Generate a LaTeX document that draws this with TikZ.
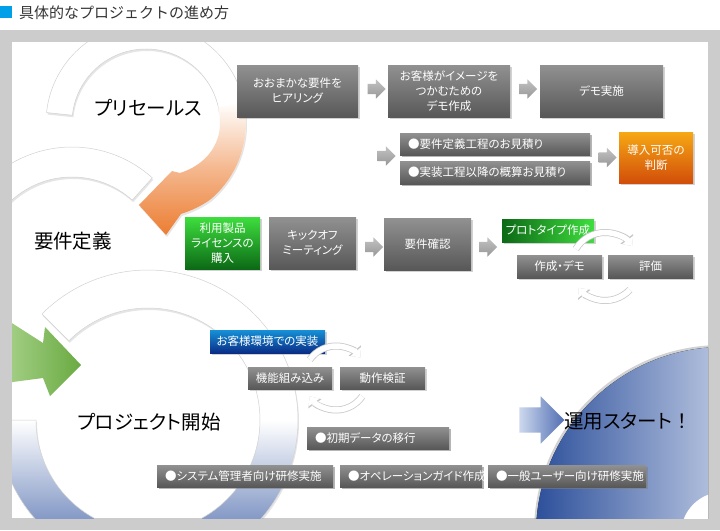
\documentclass[tikz,border=0pt]{standalone}
\usepackage{fontspec}
\usepackage{tikz}
\usetikzlibrary{arrows.meta, shapes.arrows, shadows, calc}

\newfontfamily\jpfont{Noto Sans CJK JP}
\newfontfamily\jpprop[RawFeature=+palt]{Noto Sans CJK JP}

\definecolor{framegray}{RGB}{204,204,204}
\definecolor{titleblue}{RGB}{0,160,233}
\definecolor{titlegray}{RGB}{51,51,51}
\definecolor{boxlight}{RGB}{145,145,145}
\definecolor{boxdark}{RGB}{88,88,88}
\definecolor{arrowlight}{RGB}{195,195,195}
\definecolor{arrowdark}{RGB}{150,150,150}
\definecolor{orangetop}{RGB}{246,168,20}
\definecolor{orangebot}{RGB}{210,78,10}
\definecolor{greentop}{RGB}{62,222,62}
\definecolor{greenbot}{RGB}{12,105,22}
\definecolor{impltop}{RGB}{22,145,215}
\definecolor{implbot}{RGB}{10,45,135}
\definecolor{ringorange}{RGB}{236,125,50}
\definecolor{ringblue}{RGB}{50,85,160}
\definecolor{greenlight}{RGB}{178,216,150}
\definecolor{greendark}{RGB}{105,170,65}
\definecolor{bigbluedark}{RGB}{45,80,155}
\definecolor{bigbluelight}{RGB}{185,198,225}
\definecolor{runlight}{RGB}{205,216,238}
\definecolor{rundark}{RGB}{80,110,178}

\begin{document}
\begin{tikzpicture}[x=1pt, y=-1pt,
    box/.style={rectangle, top color=boxlight, bottom color=boxdark,
      text=white, align=center, inner sep=0pt,
      font=\jpprop\fontsize{11.5}{15}\selectfont,
      drop shadow={opacity=0.35, shadow xshift=1.5pt, shadow yshift=-1.5pt}},
    listbox/.style={box, align=left, text width=#1, inner xsep=8pt},
    blockarrow/.style={single arrow, single arrow head extend=4.5pt,
      minimum height=18pt, inner xsep=0pt, inner ysep=5pt,
      top color=arrowlight, bottom color=arrowdark},
    ring/.style={draw=black!18, line width=0.5pt, fill=white,
      drop shadow={opacity=0.2, shadow xshift=1pt, shadow yshift=-2pt}},
    stage/.style={font=\jpprop\fontsize{19.5}{24}\selectfont, text=black, inner sep=0pt},
    cyc/.style={draw=white, line width=5.5pt, -{Triangle[length=7.5pt, width=13pt]},
      preaction={draw=black!22, line width=7pt, -{Triangle[length=9pt, width=15.5pt]}}}]
  \useasboundingbox (0,0) rectangle (720,530);

  \fill[titleblue] (0,6) rectangle (12,18);
  \node[anchor=west, inner sep=0pt, text=titlegray,
    font=\jpfont\fontsize{15}{18}\selectfont] (title) at (19,13) {具体的なプロジェクトの進め方};
  \fill[framegray] (0,30) rectangle (720,530);
  \fill[white] (12,42) rectangle (708,518);

  \begin{scope}
    \clip (12,42) rectangle (708,518);
    \coordinate (c1) at (146,123);
    \coordinate (c2) at (72,267);
    \coordinate (c3) at (148,420);
    \coordinate (c4) at (723,534);
    \fill[left color=bigbluedark, right color=white, middle color=bigbluelight,
      drop shadow={opacity=0.35, shadow xshift=-2pt, shadow yshift=2pt}] (c4) circle[radius=187];
    \fill[white] (c4) circle[radius=42];
    \path[ring] ($(c2)+(-150:120)$) arc[start angle=-150, end angle=-48, radius=120]
      -- ($(c2)+(-48:90)$) arc[start angle=-48, end angle=-150, radius=90] -- cycle;
    \path[ring] ($(c1)+(-174:100)$) arc[start angle=-174, end angle=-8, radius=100]
      -- ($(c1)+(-8:74)$) arc[start angle=-8, end angle=-174, radius=74] -- cycle;
    \path[ring, draw=none, top color=white, bottom color=ringorange, middle color=ringorange!55]
      ($(c1)+(-12:100)$) arc[start angle=-12, end angle=50, radius=100]
      .. controls (200,207) and (190,211) .. (181,214) -- (166,235) -- (139,205)
      -- (172,171) -- (180,173) .. controls (205,165) and (220,146) .. ($(c1)+(0:74)$)
      arc[start angle=0, end angle=-12, radius=74] -- cycle;
    \path[ring, top color=white, bottom color=ringblue, middle color=white]
      ($(c3)+(-135:150)$) arc[start angle=-135, end angle=180, radius=150]
      -- ($(c3)+(180:112)$) arc[start angle=180, end angle=-135, radius=112] -- cycle;
    \path[left color=greenlight, right color=greendark]
      (-10,309) -- (43,343) -- (45,327) -- (81,365) -- (50,396) -- (43,378) -- (-10,385) -- cycle;
  \end{scope}

  \node[stage] (presale) at (148,108) {プリセールス};
  \node[stage] (define) at (73,241) {要件定義};
  \node[stage] (start) at (149,422) {プロジェクト開始};
  \node[single arrow, single arrow head extend=11pt, minimum height=45pt,
    inner xsep=0pt, inner ysep=12.5pt, left color=runlight, right color=rundark] (golive) at (535.5,420) {};
  \node[stage, anchor=west] (run) at (564,421) {運用スタート{\jpfont ！}};

  \begin{scope}[every node/.style={box}]
    \node[minimum width=121pt, minimum height=52pt] (hear) at (297.5,91) {おおまかな要件を\\ヒアリング};
    \node[minimum width=122pt, minimum height=52pt] (mock) at (449,91) {お客様がイメージを\\つかむための\\デモ作成};
    \node[minimum width=123pt, minimum height=52pt] (demo) at (601.5,91) {デモ実施};
    \node[listbox=174pt, minimum height=22pt] (est1) at (495,144) {●要件定義工程のお見積り};
    \node[listbox=174pt, minimum height=23pt] (est2) at (495,172.5) {●実装工程以降の概算お見積り};
    \node[minimum width=74pt, minimum height=51pt, top color=orangetop, bottom color=orangebot] (judge) at (656,157.5) {導入可否の\\判断};
    \node[minimum width=75pt, minimum height=52pt, top color=greentop, bottom color=greenbot] (license) at (222.5,243) {利用製品\\ライセンスの\\購入};
    \node[minimum width=87pt, minimum height=52pt] (kickoff) at (312.5,243) {キックオフ\\ミーティング};
    \node[minimum width=87pt, minimum height=52pt] (confirm) at (427.5,244) {要件確認};
    \node[minimum width=92pt, minimum height=23pt, left color=greenbot, right color=greentop] (proto) at (548,230.5) {プロトタイプ作成};
    \node[minimum width=85pt, minimum height=23pt] (make) at (559.5,266.5) {作成・デモ};
    \node[minimum width=85pt, minimum height=23pt] (eval) at (650.5,266.5) {評価};
    \node[minimum width=115pt, minimum height=23pt, top color=impltop, bottom color=implbot] (impl) at (267.5,341.5) {お客様環境での実装};
    \node[minimum width=84pt, minimum height=22pt] (embed) at (290,378) {機能組み込み};
    \node[minimum width=85pt, minimum height=22pt] (check) at (382.5,378) {動作検証};
    \node[listbox=126pt, minimum height=22pt] (migrate) at (378,438) {●初期データの移行};
    \node[listbox=160pt, minimum height=22pt] (train1) at (245,476) {●システム管理者向け研修実施};
    \node[listbox=126pt, minimum height=22pt] (guide) at (411,476) {●オペレーションガイド作成};
    \node[listbox=142pt, minimum height=22pt] (train2) at (567,476) {●一般ユーザー向け研修実施};
  \end{scope}

  \begin{scope}[every node/.style={blockarrow}]
    \node (a1) at (374,89) {};
    \node (a2) at (525.5,89) {};
    \node (a3) at (384,156) {};
    \node (a4) at (605,157.5) {};
    \node (a5) at (371.5,247) {};
    \node (a6) at (485.5,247) {};
  \end{scope}

  \coordinate (cv) at ($(make.east)!0.5!(eval.west)$);
  \coordinate (md) at ($(embed.east)!0.5!(check.west)$);
  \draw[cyc] ($(cv)+(-149:34)$) arc[start angle=-149, end angle=-37, radius=34];
  \draw[cyc] ($(cv)+(43:34)$) arc[start angle=43, end angle=141, radius=34];
  \draw[cyc] ($(md)+(-145:32)$) arc[start angle=-145, end angle=-40, radius=32];
  \draw[cyc] ($(md)+(35:32)$) arc[start angle=35, end angle=145, radius=32];
\end{tikzpicture}
\end{document}
